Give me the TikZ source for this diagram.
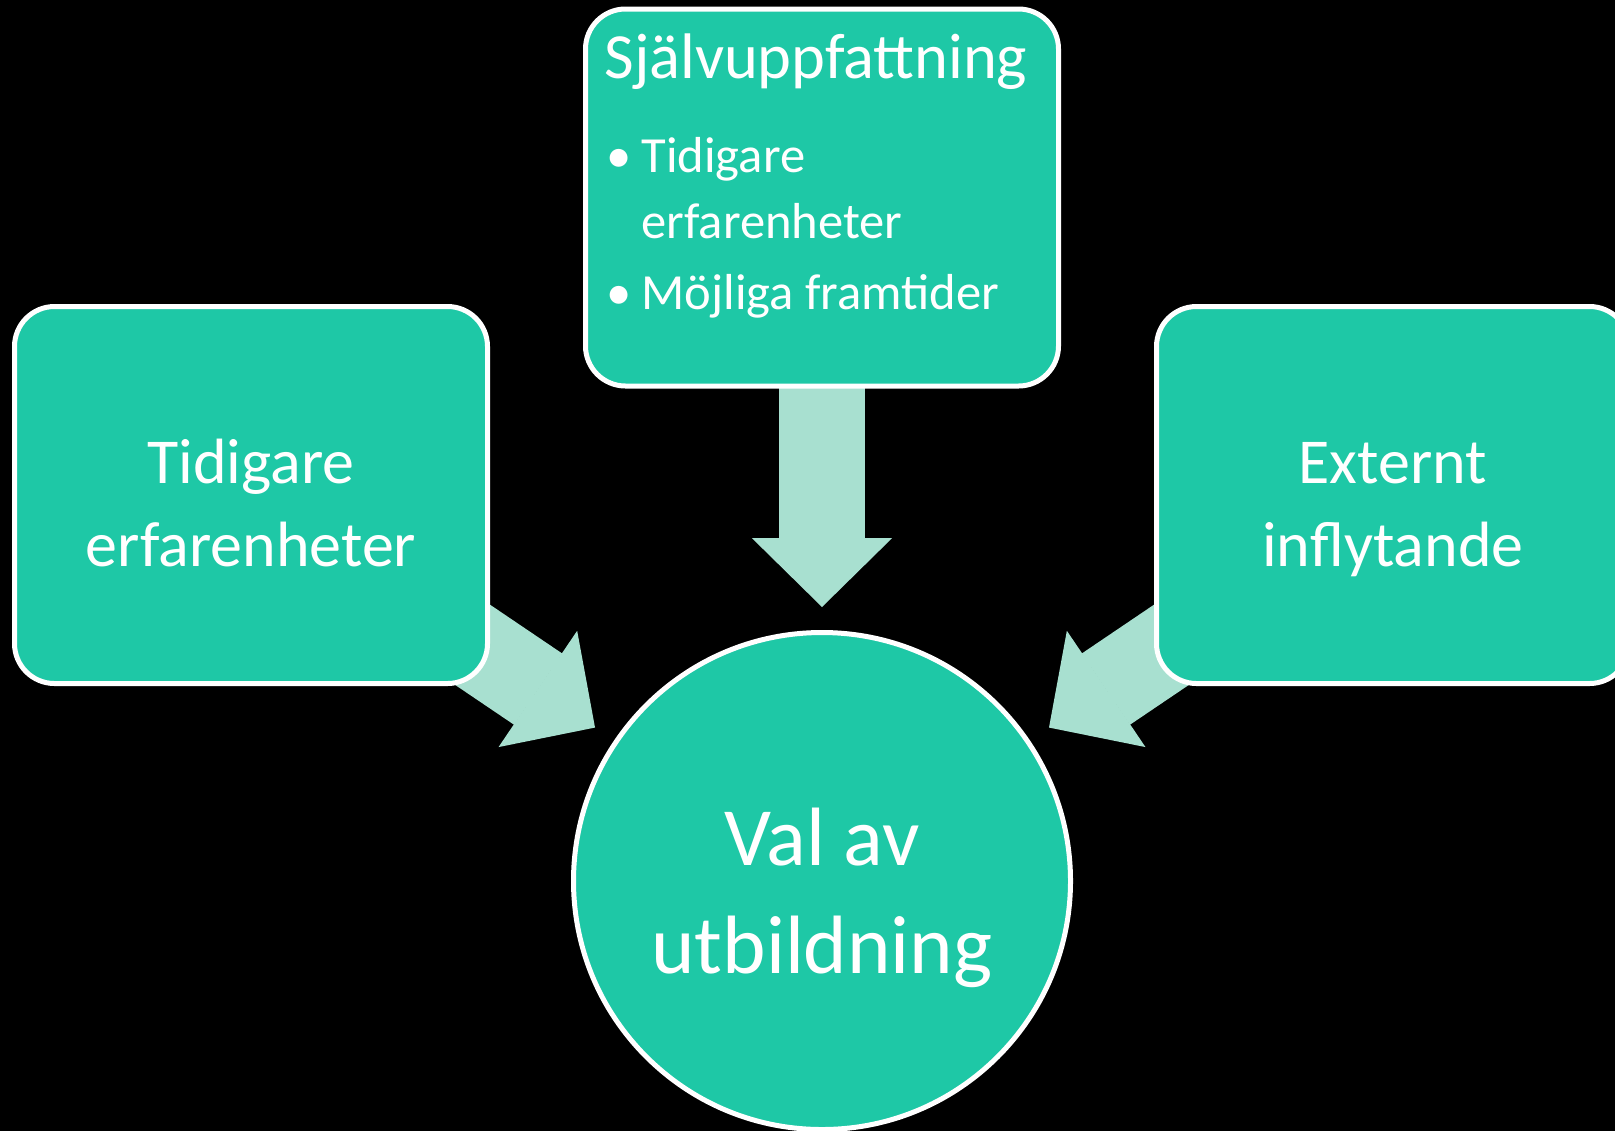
\documentclass[tikz,border=0pt]{standalone}
\usepackage{fontspec}
\setmainfont{Carlito}
\usepackage{tikz}
\usetikzlibrary{shapes.geometric, arrows.meta, backgrounds}
\definecolor{boxteal}{RGB}{30,200,166}
\definecolor{arrowmint}{RGB}{168,224,208}
\tikzstyle{factor} = [rectangle, rounded corners=20pt, minimum width=236.5pt, minimum height=188.5pt, inner sep=0pt, align=center, draw=white, line width=2.5pt, fill=boxteal, text=white, font=\fontsize{32}{41.5}\selectfont]
\tikzstyle{selfbox} = [factor, align=left, font=\normalsize]
\tikzstyle{choice} = [circle, minimum size=248.5pt, inner sep=0pt, align=center, draw=white, line width=2.5pt, fill=boxteal, text=white, font=\fontsize{41.4}{54}\selectfont]
\tikzstyle{influence} = [arrowmint, line width=43pt, -{Triangle[width=70pt,length=34.5pt,line width=1pt]}, shorten >=11.5pt]
\newcommand{\bulletitem}{\makebox[18.5pt][l]{\hspace{1pt}•}}
\newcommand{\hi}[1]{\rule{0pt}{#1}}
\newcommand{\lo}[1]{\rule[-#1]{0pt}{#1}}

\begin{document}
\begin{tikzpicture}[node distance=193pt]
\useasboundingbox (0pt,0pt) rectangle (807.5pt,-565.5pt);
\node (val) [choice] at (411pt,-440.5pt) {\hi{50pt}Val av\\utbildning\lo{12pt}};
\node (past) [factor, above of=val, xshift=-285.5pt] {\hi{39.5pt}Tidigare\\erfarenheter\lo{10pt}};
\node (ext) [factor, above of=val, xshift=285.5pt] {\hi{39.5pt}Externt\\inflytande\lo{10pt}};
\node (self) [selfbox, above of=val, yshift=148.75pt] {\parbox[c][180pt][t]{217.5pt}{%
  \fontsize{32.2}{36}\selectfont\hi{30.5pt}Självuppfattning\par
  \fontsize{25.3}{33}\selectfont\vspace{14pt}
  \bulletitem Tidigare\\
  \hspace*{18.5pt}erfarenheter\par\vspace{2.5pt}
  \bulletitem Möjliga framtider}};
\begin{scope}[on background layer]
\fill [black] (0pt,0pt) rectangle (807.5pt,-565.5pt);
\draw [influence] (self.center) -- (val);
\draw [influence] (past.center) -- (val);
\draw [influence] (ext.center) -- (val);
\end{scope}
\end{tikzpicture}
\end{document}
